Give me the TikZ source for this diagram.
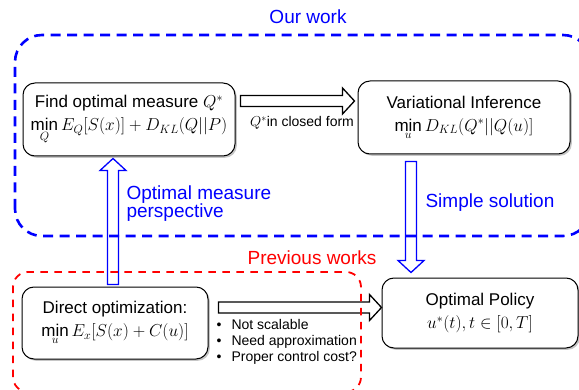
\documentclass[tikz,border=0pt]{standalone}
\usepackage{fontspec}
\setmainfont{Liberation Sans}
\usetikzlibrary{calc,shadows}

\tikzset{
  box/.style={draw, line width=1pt, rounded corners=12pt, fill=white, align=center,
    inner sep=0pt, font=\fontsize{17}{23}\selectfont,
    drop shadow={shadow xshift=1.8pt, shadow yshift=-1.8pt, opacity=.45}},
  bluetext/.style={text=blue, font=\fontsize{19}{18}\selectfont},
  redtext/.style={text=red, font=\fontsize{19}{18}\selectfont},
  smalltext/.style={font=\fontsize{14}{16}\selectfont},
  ourwork/.style={draw=blue, line width=2.6pt, dash pattern=on 10pt off 6.5pt, rounded corners=27pt},
  prevwork/.style={draw=red, line width=1.8pt, dash pattern=on 7.5pt off 6.5pt, rounded corners=15pt},
  fat/.style={line width=1.3pt, line join=miter},
}

% hollow block arrow between two points: #1 style, #2 start, #3 tip
\newcommand\fatarrow[3]{%
  \draw[fat,#1] let \p1=#2, \p2=#3, \n1={atan2(\y2-\y1,\x2-\x1)}, \n2={veclen(\x2-\x1,\y2-\y1)} in
    [shift={(\p1)}, rotate=\n1]
    (0,-5.5) -- (\n2-12,-5.5) -- (\n2-12,-13) -- (\n2,0) -- (\n2-12,13) -- (\n2-12,5.5) -- (0,5.5) -- cycle;
}

\begin{document}
\begin{tikzpicture}[x=1pt, y=1pt]
  \useasboundingbox (0,0) rectangle (579,389);
  \clip (0,0) rectangle (579,389);

  % the four steps
  \node[box, minimum width=212pt, minimum height=73pt] (find) at (129,269.5)
    {Find optimal measure $Q^*$\\ $\min\limits_Q E_Q[S(x)]+D_{KL}(Q||P)$};
  \node[box, minimum width=212pt, minimum height=73pt] (vi) at (464,271.5)
    {Variational Inference\\ $\min\limits_u D_{KL}(Q^*||Q(u)]$};
  \node[box, minimum width=186pt, minimum height=72pt] (direct) at (115,66)
    {Direct optimization:\\ $\min\limits_u E_x[S(x)+C(u)]$};
  \node[box, minimum width=196pt, minimum height=70pt] (policy) at (480,76)
    {Optimal Policy\\ $u^*(t),t\in[0,T]$};

  % block arrows
  \fatarrow{}{($(find.east)+(5,18.5)$)}{($(vi.west)+(-3,16.5)$)}
  \fatarrow{draw=blue}{($(direct.north)+(-2,2)$)}{($(find.south)+(-16,-2)$)}
  \fatarrow{draw=blue}{($(vi.south)+(-53,-7)$)}{($(policy.north)+(-69,5)$)}
  \fatarrow{}{($(direct.east)+(10,15.5)$)}{($(policy.west)+(0,5.5)$)}

  % labels
  \node[smalltext] (closed) at (302,266) {$Q^*$in closed form};
  \node[bluetext, anchor=west, align=left] (persp) at (123,185) {Optimal measure\\perspective};
  \node[bluetext, anchor=west] (simple) at (422,186) {Simple solution};
  \node[smalltext, anchor=west, align=left] (cons) at (213,47)
    {\makebox[15pt][l]{\textbullet}Not scalable\\
     \makebox[15pt][l]{\textbullet}Need approximation\\
     \makebox[15pt][l]{\textbullet}Proper control cost?};

  % grouping frames
  \draw[ourwork] (15,153) rectangle (590,354);
  \node[bluetext] (ours) at (308,372) {Our work};
  \draw[prevwork] (13,-3) rectangle (361,117);
  \node[redtext] (prev) at (312,131) {Previous works};
\end{tikzpicture}
\end{document}
